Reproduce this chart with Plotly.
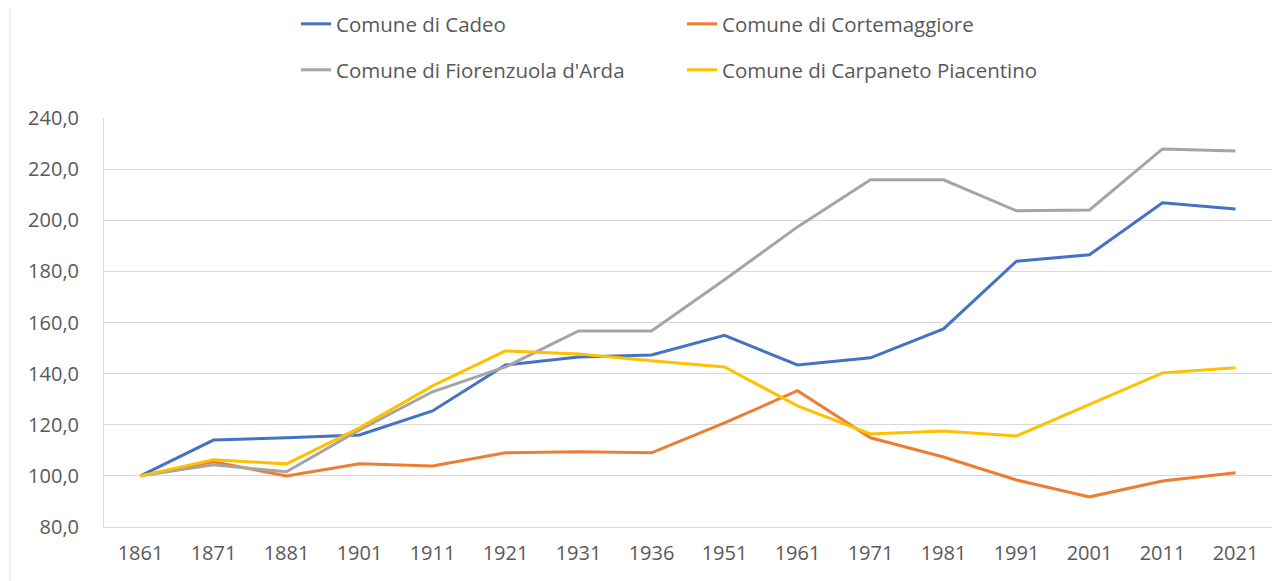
import plotly.graph_objects as go

# Population index (1861 = 100)
years = ["1861", "1871", "1881", "1901", "1911", "1921", "1931", "1936",
         "1951", "1961", "1971", "1981", "1991", "2001", "2011", "2021"]

cadeo = [100.0, 114.0, 114.9, 116.0, 125.4, 143.4, 146.5, 147.3,
         155.0, 143.4, 146.2, 157.5, 184.0, 186.5, 206.8, 204.4]
cortemaggiore = [100.0, 105.5, 100.0, 104.7, 103.9, 109.0, 109.4, 109.0,
                 120.7, 133.3, 114.9, 107.4, 98.4, 91.8, 98.0, 101.2]
fiorenzuola = [100.0, 104.3, 101.6, 118.0, 132.9, 142.6, 156.7, 156.7,
               176.7, 197.4, 215.8, 215.8, 203.7, 204.0, 227.9, 227.1]
carpaneto = [100.0, 106.3, 104.7, 118.8, 135.2, 148.9, 147.7, 145.0,
             142.6, 127.4, 116.4, 117.6, 115.6, 127.8, 140.3, 142.3]

series = [
    ("Comune di Cadeo", cadeo, "#4472C4", "legend"),
    ("Comune di Cortemaggiore", cortemaggiore, "#ED7D31", "legend"),
    ("Comune di Fiorenzuola d'Arda", fiorenzuola, "#A5A5A5", "legend2"),
    ("Comune di Carpaneto Piacentino", carpaneto, "#FFC000", "legend2"),
]

FONT = "Open Sans"
TXT = "#595959"
GRID = "#D9D9D9"
FS = 20

fig = go.Figure()
for name, vals, color, leg in series:
    fig.add_trace(go.Scatter(
        x=years, y=vals, name=name, mode="lines",
        line=dict(color=color, width=3),
        legend=leg,
    ))

legend_common = dict(
    orientation="h", xanchor="left", yanchor="middle",
    font=dict(family=FONT, size=20.5, color=TXT),
    entrywidth=341, itemwidth=30, bgcolor="rgba(0,0,0,0)",
)

# page body adds an 8px offset, so the figure is 8px smaller than the window
fig.update_layout(
    width=1280, height=573,
    margin=dict(l=96, r=16, t=110, b=54, autoexpand=False),
    paper_bgcolor="white", plot_bgcolor="white",
    separators=",.",
    font=dict(family=FONT, size=FS, color=TXT),
    legend=dict(x=0.1644, y=1.2298, **legend_common),
    legend2=dict(x=0.1644, y=1.1174, **legend_common),
)

fig.update_xaxes(
    type="category", range=[-0.5, len(years) - 0.5],
    showline=True, linecolor=GRID, linewidth=1,
    showgrid=False, ticks="", ticklabelstandoff=8,
    tickfont=dict(family=FONT, size=FS, color=TXT),
)
fig.update_yaxes(
    range=[80, 240], dtick=20, tickformat=".1f",
    showline=True, linecolor=GRID, linewidth=1,
    showgrid=True, gridcolor=GRID, gridwidth=1,
    zeroline=False, ticks="", ticklabelstandoff=20,
    tickfont=dict(family=FONT, size=FS, color=TXT),
)

# outer chart border visible at the left edge
fig.add_shape(type="line", xref="paper", yref="paper",
              x0=-94 / 1168, x1=-94 / 1168,
              y0=-54 / 409, y1=1 + 110 / 409,
              line=dict(color=GRID, width=1))

fig.write_html("out.html")
